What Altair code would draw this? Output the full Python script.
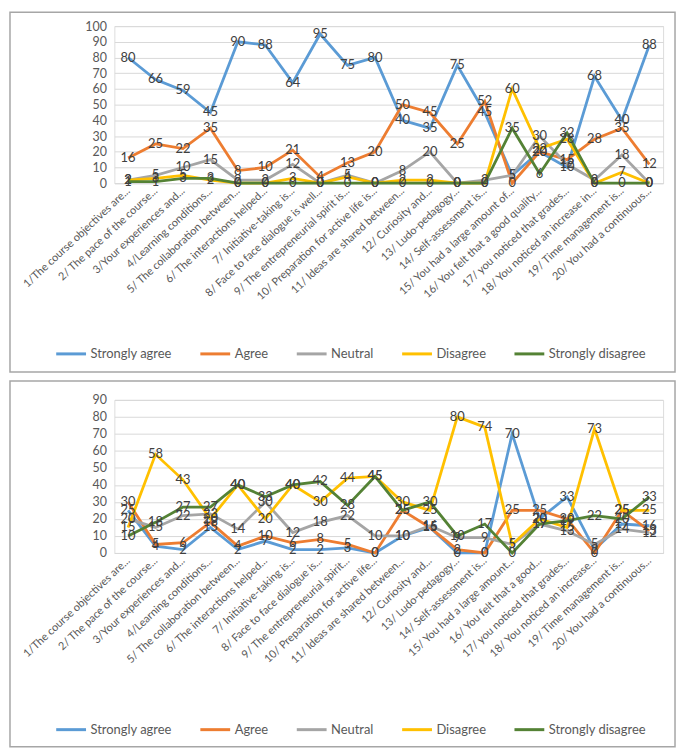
import altair as alt
import pandas as pd

series = ["Strongly agree", "Agree", "Neutral", "Disagree", "Strongly disagree"]
colors = ["#5B9BD5", "#ED7D31", "#A5A5A5", "#FFC000", "#548235"]

top_labels = [
    "1/The course objectives are...",
    "2/ The pace of the course...",
    "3/Your experiences and...",
    "4/Learning conditions...",
    "5/ The collaboration between...",
    "6/ The interactions helped...",
    "7/ Initiative-taking is...",
    "8/  Face to face dialogue is well...",
    "9/ The entrepreneurial spirit is...",
    "10/ Preparation for active life is...",
    "11/ Ideas are shared between...",
    "12/  Curiosity and...",
    "13/  Ludo-pedagogy...",
    "14/  Self-assessment is...",
    "15/ You had a large amount of...",
    "16/ You felt that a good quality...",
    "17/ you noticed that grades...",
    "18/ You noticed an increase in...",
    "19/  Time management is...",
    "20/  You had a continuous...",
]
bottom_labels = [
    "1/The course objectives are...",
    "2/ The pace of the course...",
    "3/Your experiences and...",
    "4/Learning conditions...",
    "5/ The collaboration between...",
    "6/ The interactions helped...",
    "7/ Initiative-taking is...",
    "8/  Face to face dialogue is...",
    "9/ The entrepreneurial spirit...",
    "10/ Preparation for active life...",
    "11/ Ideas are shared between...",
    "12/  Curiosity and...",
    "13/  Ludo-pedagogy...",
    "14/  Self-assessment is...",
    "15/ You had a large amount...",
    "16/ You felt that a good...",
    "17/ you noticed that grades...",
    "18/ You noticed an increase...",
    "19/  Time management is...",
    "20/  You had a continuous...",
]

top_strongly_agree = [80, 66, 59, 45, 90, 88, 64, 95, 75, 80, 40, 35, 75, 45, 5, 20, 10, 68, 40, 88]
top_agree = [16, 25, 22, 35, 8, 10, 21, 4, 13, 20, 50, 45, 25, 52, 0, 20, 15, 28, 35, 12]
top_neutral = [2, 5, 10, 15, 2, 2, 12, 0, 5, 0, 8, 20, 0, 2, 5, 30, 12, 2, 18, 0]
top_disagree = [2, 3, 5, 2, 0, 0, 3, 0, 4, 0, 2, 2, 0, 0, 60, 22, 28, 0, 7, 0]
top_strongly_disagree = [1, 1, 3, 3, 0, 0, 0, 0, 0, 0, 0, 0, 0, 0, 35, 6, 32, 0, 0, 0]

bottom_strongly_agree = [25, 4, 2, 15, 2, 7, 2, 2, 3, 0, 10, 15, 0, 0, 70, 20, 33, 2, 17, 16]
bottom_agree = [30, 5, 6, 18, 4, 10, 6, 8, 5, 0, 25, 15, 2, 0, 25, 25, 20, 0, 25, 13]
bottom_neutral = [20, 15, 22, 23, 14, 30, 12, 18, 22, 10, 10, 16, 9, 9, 5, 17, 13, 5, 14, 12]
bottom_disagree = [15, 58, 43, 20, 40, 20, 40, 30, 44, 45, 30, 25, 80, 74, 5, 20, 15, 73, 25, 25]
bottom_strongly_disagree = [10, 18, 27, 27, 40, 33, 40, 42, 28, 45, 25, 30, 10, 17, 0, 17, 19, 22, 20, 33]

FONT = "Lato"
W = 552


def panel(labels, values_by_series, ymax, height, frame_top, frame_bottom, legend_y):
    rows = []
    for s, vals in zip(series, values_by_series):
        for q, v in zip(labels, vals):
            rows.append({"question": q, "series": s, "value": v})
    df = pd.DataFrame(rows)

    x = alt.X(
        "question:N",
        sort=labels,
        title=None,
        axis=alt.Axis(
            labelAngle=-43,
            labelAlign="right",
            labelBaseline="middle",
            labelFont=FONT,
            labelFontSize=11,
            labelColor="#595959",
            labelLimit=400,
            labelPadding=6,
            ticks=False,
            domain=True,
            domainColor="#d9d9d9",
            grid=False,
        ),
    )
    y = alt.Y(
        "value:Q",
        scale=alt.Scale(domain=[0, ymax], nice=False),
        title=None,
        axis=alt.Axis(
            values=list(range(0, ymax + 1, 10)),
            grid=True,
            gridColor="#d9d9d9",
            domain=False,
            ticks=False,
            labelFont=FONT,
            labelFontSize=12.5,
            labelColor="#595959",
            labelPadding=8,
        ),
    )
    lines = alt.Chart(df).mark_line(strokeWidth=2.8).encode(
        x=x,
        y=y,
        color=alt.Color(
            "series:N",
            scale=alt.Scale(domain=series, range=colors),
            legend=alt.Legend(
                orient="none",
                legendX=-60,
                legendY=legend_y,
                direction="horizontal",
                title=None,
                symbolType="stroke",
                symbolSize=900,
                symbolStrokeWidth=3,
                labelFont=FONT,
                labelFontSize=13,
                labelColor="#595959",
                columnPadding=22,
                labelOffset=3,
            ),
        ),
    )
    texts = alt.Chart(df).mark_text(font=FONT, fontSize=13, color="#404040").encode(
        x=x, y=y, text="value:Q"
    )
    frame = alt.Chart(pd.DataFrame({"f": [0]})).mark_rect(
        fillOpacity=0, stroke="#a6a6a6", strokeWidth=1.5
    ).encode(
        x=alt.value(-105),
        x2=alt.value(W + 12),
        y=alt.value(frame_top),
        y2=alt.value(frame_bottom),
    )
    return alt.layer(frame, lines, texts).properties(width=W, height=height)


top = panel(
    top_labels,
    [top_strongly_agree, top_agree, top_neutral, top_disagree, top_strongly_disagree],
    100, 158, -14, 158 + 190, 158 + 155,
)
bottom = panel(
    bottom_labels,
    [bottom_strongly_agree, bottom_agree, bottom_neutral, bottom_disagree, bottom_strongly_disagree],
    90, 154, -19, 154 + 195, 154 + 161,
)

chart = (
    alt.vconcat(top, bottom, spacing=5)
    .resolve_scale(color="independent", x="independent", y="independent")
    .resolve_legend(color="independent")
    .properties(padding=0)
    .configure_view(stroke=None)
    .configure(background="white")
)

chart.save("out.html", embed_options={"renderer": "svg", "actions": False})
